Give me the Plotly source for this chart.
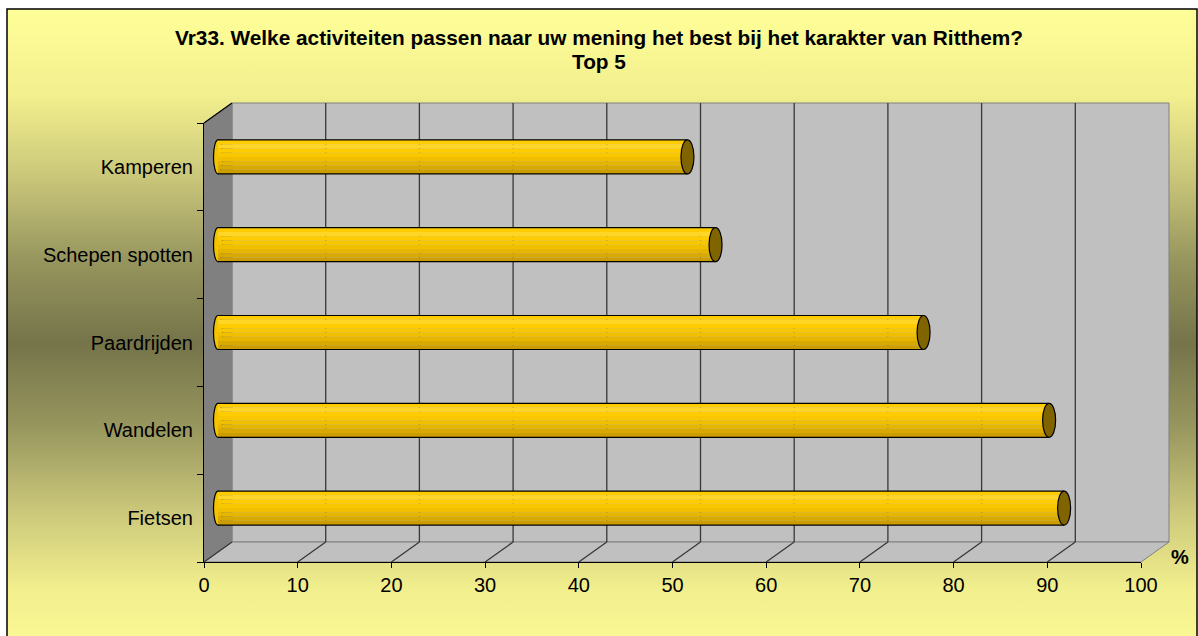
import base64
import plotly.graph_objects as go

# ---------------- data ----------------
categories = ["Fietsen", "Wandelen", "Paardrijden", "Schepen spotten", "Kamperen"]
values = [90.3, 88.7, 75.3, 53.1, 50.1]
x_ticks = [0, 10, 20, 30, 40, 50, 60, 70, 80, 90, 100]
x_tick_labels = [str(v) for v in x_ticks]
title_line1 = "Vr33. Welke activiteiten passen naar uw mening het best bij het karakter van Ritthem?"
title_line2 = "Top 5"
unit_label = "%"

# ---------------- geometry / style ----------------
W, H = 1198, 636
PX0, PX100 = 204, 1141          # front x-axis pixel positions of 0 and 100
PY_BOT, PY_TOP = 562, 123       # front category axis pixel span
SX = (PX100 - PX0) / 100.0
SY = (PY_BOT - PY_TOP) / len(categories)
DX = 28 / SX                    # 3-D depth offset in data units
DY = 20 / SY
BAR_W = 34 / SY
CAP_RX = 6.5 / SX
LEFT_RX = 4.5 / SX
FONT = "Liberation Sans, Arial, sans-serif"

def X(px):
    return (px - PX0) / SX

def Y(py):
    return -0.5 + (PY_BOT - py) / SY

def PXP(px):
    return px / W

def PYP(py):
    return 1 - py / H

band_colors = ["#FFCC00", "#FFD526", "#FFCC00", "#F9C700", "#F0BF00",
               "#E5B500", "#D8A900", "#CB9D00"]
NB = len(band_colors)
pos = [i + DY / 2 for i in range(len(categories))]
base = DX / 2
y_lo, y_hi = -0.5, len(categories) - 0.5

fig = go.Figure()

# cylinder bodies (shaded bands)
for b, col in enumerate(band_colors):
    fig.add_trace(go.Bar(
        orientation="h", x=values, y=pos, base=base,
        width=BAR_W / NB, offset=BAR_W / 2 - (b + 1) * BAR_W / NB,
        marker=dict(color=col, line=dict(width=0)),
        hoverinfo="skip", showlegend=False, xaxis="x", yaxis="y"))

# outlines (top and bottom edges)
xs, yt, yb = [], [], []
for v, p in zip(values, pos):
    xs += [base, base + v, None]
    yt += [p + BAR_W / 2, p + BAR_W / 2, None]
    yb += [p - BAR_W / 2, p - BAR_W / 2, None]
for yy in (yt, yb):
    fig.add_trace(go.Scatter(x=xs, y=yy, mode="lines",
                             line=dict(color="black", width=1.2),
                             hoverinfo="skip", showlegend=False,
                             xaxis="x", yaxis="y"))

# empty trace so the front axes subplot gets drawn
fig.add_trace(go.Scatter(x=[], y=[], xaxis="x2", yaxis="y2", mode="markers",
                         hoverinfo="skip", showlegend=False))

shapes = []
gray_edge = dict(color="#808080", width=1)
shapes.append(dict(type="rect", xref="x", yref="y", layer="below",
                   x0=DX, x1=100 + DX, y0=y_lo + DY, y1=y_hi + DY,
                   fillcolor="#C0C0C0", line=gray_edge))
shapes.append(dict(type="path", xref="x", yref="y", layer="below",
                   path=f"M0,{y_lo} L100,{y_lo} L{100+DX},{y_lo+DY} L{DX},{y_lo+DY} Z",
                   fillcolor="#C0C0C0", line=gray_edge))
shapes.append(dict(type="path", xref="x", yref="y", layer="below",
                   path=f"M0,{y_lo} L0,{y_hi} L{DX},{y_hi+DY} L{DX},{y_lo+DY} Z",
                   fillcolor="#808080", line=gray_edge))
shapes.append(dict(type="line", xref="x", yref="y", layer="below",
                   x0=0, y0=y_hi, x1=DX, y1=y_hi + DY,
                   line=dict(color="black", width=1.2)))
grid = dict(color="#383838", width=1.3)
for k in x_ticks:
    if 0 < k < 100:
        shapes.append(dict(type="line", xref="x", yref="y", layer="below",
                           x0=k + DX, x1=k + DX, y0=y_lo + DY, y1=y_hi + DY, line=grid))
    if k < 100:
        shapes.append(dict(type="line", xref="x", yref="y", layer="below",
                           x0=k, y0=y_lo, x1=k + DX, y1=y_lo + DY, line=grid))
for p in pos:
    shapes.append(dict(type="circle", xref="x", yref="y", layer="below",
                       x0=base - LEFT_RX, x1=base + LEFT_RX,
                       y0=p - BAR_W / 2, y1=p + BAR_W / 2,
                       fillcolor="#F5C400", line=dict(color="black", width=1.2)))
for v, p in zip(values, pos):
    shapes.append(dict(type="circle", xref="x", yref="y", layer="above",
                       x0=base + v - CAP_RX, x1=base + v + CAP_RX,
                       y0=p - BAR_W / 2, y1=p + BAR_W / 2,
                       fillcolor="#7F6400", line=dict(color="black", width=1.2)))
# chart border
shapes.append(dict(type="rect", xref="paper", yref="paper", layer="above",
                   x0=PXP(7), x1=PXP(1197), y0=-0.02, y1=PYP(9),
                   line=dict(color="black", width=1.5), fillcolor="rgba(0,0,0,0)"))

# background gradient (as svg image)
stops = [(0, "#FFFF99"), (0.13, "#F2EF8E"), (0.25, "#CAC77A"), (0.375, "#97965E"),
         (0.5, "#75744A"), (0.625, "#97965E"), (0.75, "#CAC77A"), (0.87, "#F2EF8E"),
         (1, "#FFFF99")]
svg = ('<svg xmlns="http://www.w3.org/2000/svg" width="100" height="100" '
       'viewBox="0 0 100 100" preserveAspectRatio="none"><defs>'
       '<linearGradient id="g" x1="0" y1="0" x2="0" y2="1">'
       + "".join(f'<stop offset="{o}" stop-color="{c}"/>' for o, c in stops)
       + '</linearGradient></defs><rect width="100" height="100" fill="url(#g)"/></svg>')
src = "data:image/svg+xml;base64," + base64.b64encode(svg.encode()).decode()

annotations = [
    dict(text=f"<b>{title_line1}</b>", xref="paper", yref="paper",
         x=PXP(599), y=PYP(38), xanchor="center", yanchor="middle",
         showarrow=False, font=dict(family=FONT, size=20.8, color="black")),
    dict(text=f"<b>{title_line2}</b>", xref="paper", yref="paper",
         x=PXP(599), y=PYP(62), xanchor="center", yanchor="middle",
         showarrow=False, font=dict(family=FONT, size=20.8, color="black")),
    dict(text=f"<b>{unit_label}</b>", xref="paper", yref="paper",
         x=PXP(1180), y=PYP(557), xanchor="center", yanchor="middle",
         showarrow=False, font=dict(family=FONT, size=20, color="black")),
]

fig.update_layout(
    width=W, height=H, autosize=False,
    margin=dict(l=0, r=0, t=0, b=0, pad=0),
    paper_bgcolor="white", plot_bgcolor="rgba(0,0,0,0)",
    barmode="overlay", showlegend=False,
    xaxis=dict(domain=[0, 1], range=[X(0), X(W)], visible=False, fixedrange=True,
               automargin=False),
    yaxis=dict(domain=[0, 1], range=[Y(H), Y(0)], visible=False, fixedrange=True,
               automargin=False),
    xaxis2=dict(domain=[PX0 / W, PX100 / W], range=[0, 100], anchor="y2",
                automargin=False,
                tickmode="array", tickvals=x_ticks, ticktext=x_tick_labels,
                ticks="outside", ticklen=5, tickcolor="black", tickwidth=1,
                showline=True, linecolor="black", linewidth=1,
                showgrid=False, zeroline=False, fixedrange=True,
                tickfont=dict(family=FONT, size=20, color="black")),
    yaxis2=dict(domain=[(H - PY_BOT) / H, (H - PY_TOP) / H], range=[-0.5, 4.5],
                anchor="x2", automargin=False,
                tickmode="array", tickvals=list(range(len(categories))),
                ticktext=categories, ticks="", showline=True, linecolor="black",
                linewidth=1, showgrid=False, zeroline=False, fixedrange=True,
                minor=dict(tickmode="array",
                           tickvals=[i - 0.5 for i in range(len(categories) + 1)],
                           ticks="outside", ticklen=6, tickcolor="black",
                           tickwidth=1, showgrid=False),
                ticklabelstandoff=6,
                tickfont=dict(family=FONT, size=20, color="black")),
    shapes=shapes, annotations=annotations,
    images=[dict(source=src, xref="paper", yref="paper", x=PXP(7), y=PYP(9),
                 sizex=(1197 - 7) / W, sizey=1.05, xanchor="left", yanchor="top",
                 sizing="stretch", layer="below")],
)

fig.write_html(
    "out.html",
    config={"displayModeBar": False},
    post_script="document.body.style.margin='0';document.body.style.overflow='hidden';",
)
